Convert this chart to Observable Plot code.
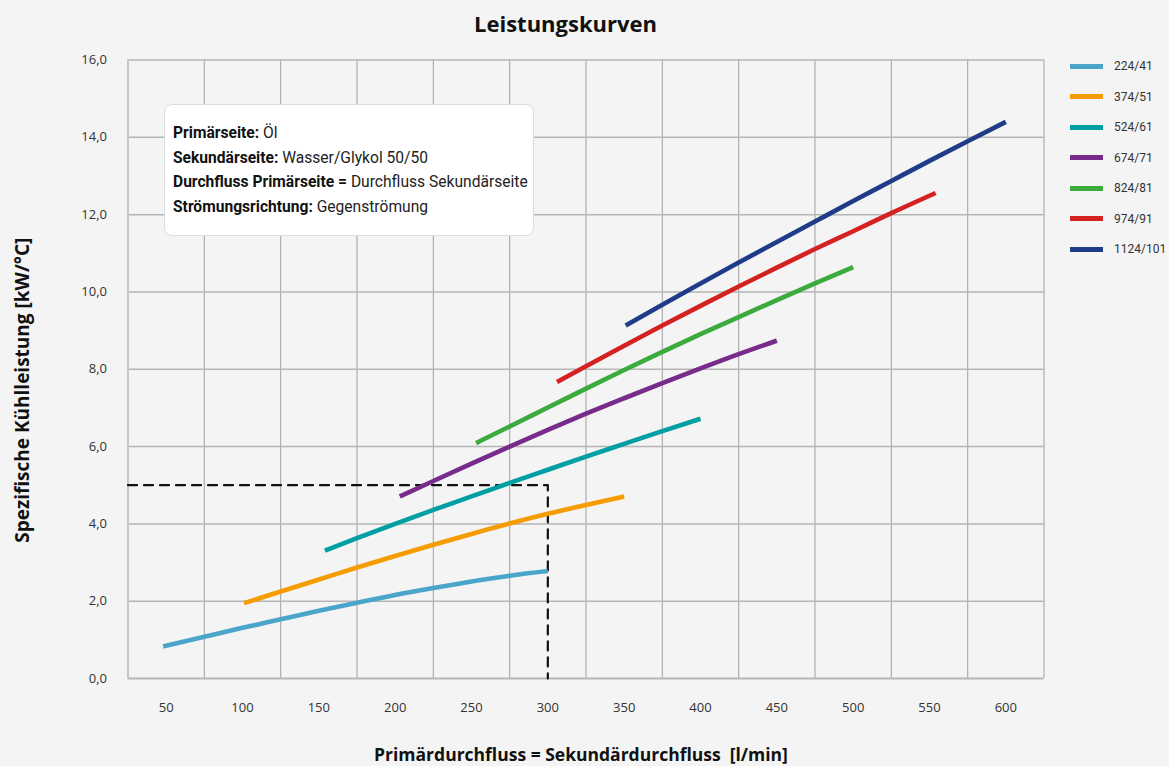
<!DOCTYPE html>
<html>
<head>
<meta charset="utf-8">
<script src="https://cdn.jsdelivr.net/npm/d3@7"></script>
<script src="https://cdn.jsdelivr.net/npm/@observablehq/plot@0.6"></script>
<style>
  html, body { margin: 0; padding: 0; background: #f4f4f4; }
  #wrap { position: relative; width: 1169px; height: 766px; background: #f4f4f4; overflow: hidden; font-family: "Open Sans", sans-serif; }
  #title { position: absolute; left: 0; width: 1131px; top: 8px; text-align: center; font-weight: bold; font-size: 22px; color: #111; }
  #chart { position: absolute; left: 0; top: 0; }
  #info { position: absolute; left: 164px; top: 104px; width: 370px; height: 132px; background: #fff; border: 1px solid #dcdcdc; border-radius: 8px; box-sizing: border-box; padding: 16px 0 0 8px; font-family: Roboto, sans-serif; font-size: 15.6px; line-height: 24.5px; color: #222; white-space: nowrap; }
  #info b { font-weight: bold; color: #111; }
  #legend { position: absolute; left: 1070px; top: 51px; font-family: Roboto, sans-serif; font-size: 12px; color: #333; white-space: nowrap; }
  .li { height: 30.5px; display: flex; align-items: center; }
  .sw { width: 33px; height: 5px; margin-right: 11px; flex: none; }
</style>
</head>
<body>
<div id="wrap">
  <div id="chart"></div>
  <div id="title">Leistungskurven</div>
  <div id="info"></div>
  <div id="legend"></div>
</div>
<script>
// ---- data ----
const seriesNames = ["224/41", "374/51", "524/61", "674/71", "824/81", "974/91", "1124/101"];
const seriesColors = ["#4aa5cb", "#f59d00", "#009fa3", "#772b8b", "#3aab3c", "#d42222", "#1e3c88"];

const x224 = [48, 75, 100, 125, 150, 175, 200, 225, 250, 275, 300];
const y224 = [0.83, 1.08, 1.31, 1.53, 1.75, 1.96, 2.16, 2.34, 2.51, 2.66, 2.78];
const x374 = [101, 125, 150, 175, 200, 225, 250, 275, 300, 325, 350];
const y374 = [1.95, 2.25, 2.56, 2.87, 3.17, 3.46, 3.74, 4.01, 4.26, 4.49, 4.71];
const x524 = [154, 175, 200, 225, 250, 275, 300, 325, 350, 375, 400];
const y524 = [3.31, 3.63, 4.00, 4.36, 4.71, 5.06, 5.40, 5.74, 6.07, 6.40, 6.72];
const x674 = [203, 225, 250, 275, 300, 325, 350, 375, 400, 425, 450];
const y674 = [4.71, 5.11, 5.56, 6.00, 6.43, 6.85, 7.25, 7.64, 8.02, 8.39, 8.74];
const x824 = [253, 275, 300, 325, 350, 375, 400, 425, 450, 475, 500];
const y824 = [6.09, 6.52, 7.01, 7.50, 7.98, 8.45, 8.91, 9.35, 9.79, 10.22, 10.64];
const x974 = [306, 325, 350, 375, 400, 425, 450, 475, 500, 525, 554];
const y974 = [7.67, 8.08, 8.61, 9.13, 9.64, 10.14, 10.63, 11.11, 11.57, 12.04, 12.56];
const x1124 = [351, 375, 400, 425, 450, 475, 500, 525, 550, 575, 600];
const y1124 = [9.13, 9.67, 10.22, 10.76, 11.29, 11.82, 12.35, 12.87, 13.39, 13.90, 14.40];

const xTicks = [50, 100, 150, 200, 250, 300, 350, 400, 450, 500, 550, 600];
const xGrid = [25, 75, 125, 175, 225, 275, 325, 375, 425, 475, 525, 575, 625];
const yTicks = [0, 2, 4, 6, 8, 10, 12, 14, 16];
const dashX = [25, 300, 300];
const dashY = [5, 5, 0];

const xLabel = "Primärdurchfluss = Sekundärdurchfluss  [l/min]";
const yLabel = "Spezifische Kühlleistung [kW/°C]";
const infoLines = [
  ["Primärseite:", " Öl"],
  ["Sekundärseite:", " Wasser/Glykol 50/50"],
  ["Durchfluss Primärseite =", " Durchfluss Sekundärseite"],
  ["Strömungsrichtung:", " Gegenströmung"]
];

// ---- build ----
const seriesX = [x224, x374, x524, x674, x824, x974, x1124];
const seriesY = [y224, y374, y524, y674, y824, y974, y1124];
const rows = [];
seriesNames.forEach((name, i) => {
  seriesX[i].forEach((xv, j) => rows.push({series: name, x: xv, y: seriesY[i][j]}));
});
const dashRows = dashX.map((xv, i) => ({x: xv, y: dashY[i]}));
const fmt = d => d.toFixed(1).replace(".", ",");

const chart = Plot.plot({
  width: 1169,
  height: 766,
  marginLeft: 127.5,
  marginRight: 125.5,
  marginTop: 59.5,
  marginBottom: 88,
  style: {background: "#f4f4f4", fontFamily: "Open Sans, sans-serif", fontSize: "13px", color: "#333"},
  x: {domain: [25, 625]},
  y: {domain: [0, 16]},
  color: {domain: seriesNames, range: seriesColors},
  marks: [
    Plot.ruleX(xGrid.slice(1), {stroke: "#adadad", strokeWidth: 1.2, strokeOpacity: 1}),
    Plot.ruleY(yTicks.slice(1), {stroke: "#b5b5b5", strokeWidth: 1.5, strokeOpacity: 1}),
    Plot.ruleX([xGrid[0]], {stroke: "#c6c6c6", strokeWidth: 2, strokeOpacity: 1}),
    Plot.ruleY([0], {stroke: "#b5b5b5", strokeWidth: 2, strokeOpacity: 1}),
    Plot.axisX(xTicks, {tickSize: 0, tickPadding: 24, label: null, fill: "#333"}),
    Plot.axisY(yTicks, {tickSize: 0, tickPadding: 21, label: null, tickFormat: fmt, fill: "#333"}),
    Plot.line(dashRows, {x: "x", y: "y", stroke: "#111", strokeWidth: 2.2, strokeDasharray: "9,7"}),
    Plot.line(rows, {x: "x", y: "y", z: "series", stroke: "series", strokeWidth: 4.6, strokeLinecap: "butt", curve: "monotone-x"}),
    Plot.text([xLabel], {frameAnchor: "bottom", dy: 82, dx: -5, fontWeight: "bold", fontSize: 17.5, fill: "#111"}),
    Plot.text([yLabel], {frameAnchor: "left", dx: -105, dy: 21, rotate: -90, textAnchor: "middle", fontWeight: "bold", fontSize: 19, fill: "#111"})
  ]
});
document.getElementById("chart").appendChild(chart);

// info box
const info = document.getElementById("info");
infoLines.forEach(([b, t]) => {
  const d = document.createElement("div");
  const bb = document.createElement("b");
  bb.textContent = b;
  d.appendChild(bb);
  d.appendChild(document.createTextNode(t));
  info.appendChild(d);
});

// legend
const legend = document.getElementById("legend");
seriesNames.forEach((n, i) => {
  const row = document.createElement("div");
  row.className = "li";
  const sw = document.createElement("span");
  sw.className = "sw";
  sw.style.background = seriesColors[i];
  const lab = document.createElement("span");
  lab.textContent = n;
  row.appendChild(sw);
  row.appendChild(lab);
  legend.appendChild(row);
});
</script>
</body>
</html>
